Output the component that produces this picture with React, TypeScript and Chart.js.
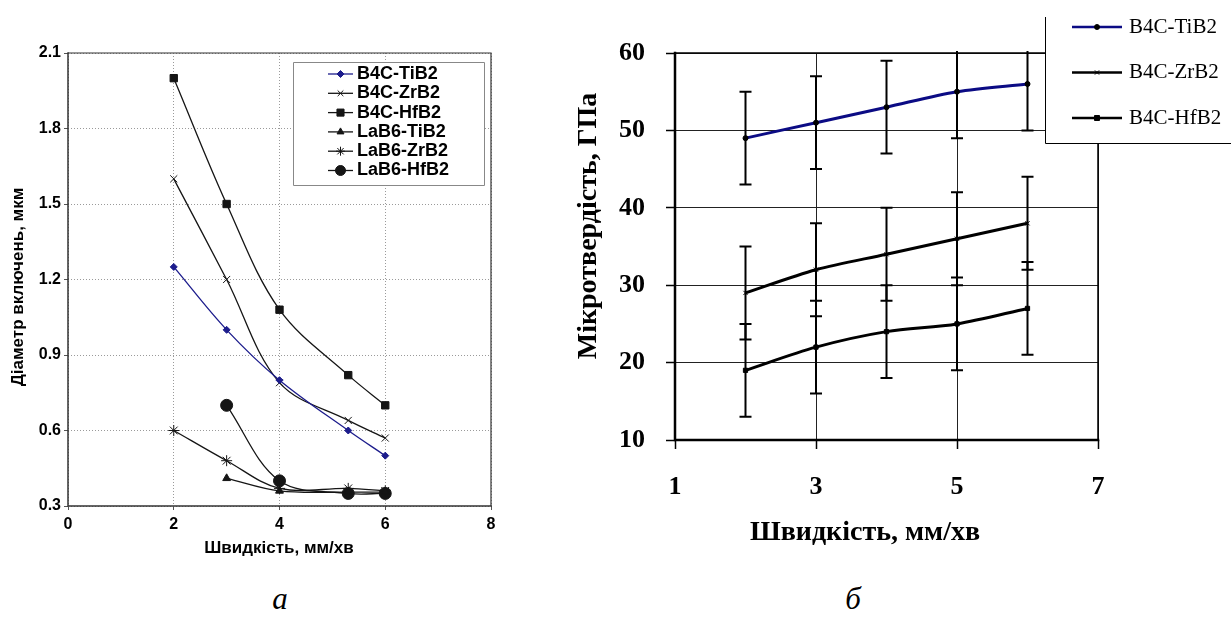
import React, { useEffect, useRef } from 'react';
import { Chart, registerables } from 'chart.js';
import { drawPoint } from 'chart.js/helpers';

Chart.register(...registerables);

const ARIAL = 'Arial, "Liberation Sans", sans-serif';
const TIMES = '"Times New Roman", "Liberation Serif", serif';

// ---------- Chart "а": inclusion diameter vs speed ----------
const speedA = [2, 3, 4, 5.3, 6];
const b4cTiB2A = [1.25, 1.0, 0.8, 0.6, 0.5];
const b4cZrB2A = [1.6, 1.2, 0.79, 0.64, 0.57];
const b4cHfB2A = [2.0, 1.5, 1.08, 0.82, 0.7];
const lab6TiB2A: (number | null)[] = [null, 0.41, 0.36, 0.355, 0.355];
const lab6ZrB2A = [0.6, 0.48, 0.37, 0.37, 0.36];
const lab6HfB2A: (number | null)[] = [null, 0.7, 0.4, 0.35, 0.35];
const xTicksA = [0, 2, 4, 6, 8];
const yTicksA = [0.3, 0.6, 0.9, 1.2, 1.5, 1.8, 2.1];

// ---------- Chart "б": microhardness vs speed ----------
const speedB = [2, 3, 4, 5, 6];
const b4cTiB2B = [49, 51, 53, 55, 56];
const b4cZrB2B = [29, 32, 34, 36, 38];
const b4cHfB2B = [19, 22, 24, 25, 27];
const errTiB2B = [6, 6, 6, 6, 6];
const errZrB2B = [6, 6, 6, 6, 6];
const errHfB2B = [6, 6, 6, 6, 6];
const xTicksB = [1, 3, 5, 7];
const yTicksB = [10, 20, 30, 40, 50, 60];

const pts = (xs: number[], ys: (number | null)[]) =>
  xs.map((x, i) => ({ x, y: ys[i] })).filter((p) => p.y !== null) as { x: number; y: number }[];

const framePlugin = {
  id: 'frame',
  beforeDatasetsDraw(chart: any, _args: any, o: any) {
    const { ctx, chartArea: a } = chart;
    ctx.save();
    ctx.strokeStyle = o.color;
    ctx.lineWidth = o.edgeWidth;
    ctx.beginPath();
    ctx.moveTo(a.left, a.top);
    ctx.lineTo(a.right, a.top);
    ctx.lineTo(a.right, a.bottom);
    ctx.stroke();
    ctx.lineWidth = o.axisWidth;
    ctx.beginPath();
    ctx.moveTo(a.left, a.top - o.axisWidth / 2);
    ctx.lineTo(a.left, a.bottom);
    ctx.lineTo(a.right + o.axisWidth / 2, a.bottom);
    ctx.stroke();
    ctx.restore();
  },
};

const titlesPlugin = {
  id: 'axisTitles',
  afterDraw(chart: any, _args: any, o: any) {
    if (!o || !o.enabled) return;
    const ctx = chart.ctx;
    ctx.save();
    ctx.fillStyle = o.color;
    ctx.font = o.font;
    ctx.textAlign = 'center';
    ctx.textBaseline = 'middle';
    ctx.fillText(o.xText, o.xTitleX, o.xTitleY);
    ctx.translate(o.yTitleX, o.yTitleY);
    ctx.rotate(-Math.PI / 2);
    ctx.fillText(o.yText, 0, 0);
    ctx.restore();
  },
};

const errorBarPlugin = {
  id: 'errorBars',
  afterDatasetsDraw(chart: any, _args: any, o: any) {
    if (!o || !o.enabled) return;
    const { ctx, chartArea: a } = chart;
    const xs = chart.scales.x;
    const ys = chart.scales.y;
    ctx.save();
    ctx.beginPath();
    ctx.rect(a.left, a.top - 2, a.right - a.left, a.bottom - a.top + 4);
    ctx.clip();
    ctx.strokeStyle = o.color;
    ctx.lineWidth = o.width;
    chart.data.datasets.forEach((ds: any) => {
      const errs = ds.errors;
      if (!errs) return;
      ds.data.forEach((p: any, i: number) => {
        const px = xs.getPixelForValue(p.x);
        const top = ys.getPixelForValue(p.y + errs[i]);
        const bot = ys.getPixelForValue(p.y - errs[i]);
        ctx.beginPath();
        ctx.moveTo(px, top);
        ctx.lineTo(px, bot);
        ctx.moveTo(px - o.cap, top);
        ctx.lineTo(px + o.cap, top);
        ctx.moveTo(px - o.cap, bot);
        ctx.lineTo(px + o.cap, bot);
        ctx.stroke();
      });
    });
    ctx.restore();
  },
};

const boxLegendPlugin = {
  id: 'boxLegend',
  afterDraw(chart: any, _args: any, o: any) {
    const ctx = chart.ctx;
    ctx.save();
    ctx.fillStyle = '#ffffff';
    ctx.fillRect(o.x, o.y, o.w, o.h);
    ctx.strokeStyle = o.borderColor;
    ctx.lineWidth = 1;
    ctx.beginPath();
    if (o.openTop) {
      ctx.moveTo(o.x + 0.5, o.y);
      ctx.lineTo(o.x + 0.5, o.y + o.h + 0.5);
      ctx.lineTo(o.x + o.w, o.y + o.h + 0.5);
    } else {
      ctx.rect(o.x + 0.5, o.y + 0.5, o.w, o.h);
    }
    ctx.stroke();
    chart.data.datasets.forEach((ds: any, i: number) => {
      const cy = o.firstY + i * o.rowGap;
      ctx.strokeStyle = ds.borderColor;
      ctx.lineWidth = o.lineWidth;
      ctx.beginPath();
      ctx.moveTo(o.lineX, cy);
      ctx.lineTo(o.lineX + o.lineLen, cy);
      ctx.stroke();
      ctx.fillStyle = ds.pointBackgroundColor;
      ctx.strokeStyle = ds.pointBorderColor;
      ctx.lineWidth = 1;
      drawPoint(
        ctx,
        { pointStyle: ds.pointStyle, radius: o.markerRadius[i], borderWidth: 1, rotation: 0 } as any,
        o.lineX + o.lineLen / 2,
        cy
      );
      ctx.fillStyle = o.textColor;
      ctx.font = o.font;
      ctx.textBaseline = 'middle';
      ctx.textAlign = 'left';
      ctx.fillText(ds.label, o.textX, cy);
    });
    ctx.restore();
  },
};

function ChartA() {
  const ref = useRef<HTMLCanvasElement>(null);
  useEffect(() => {
    const blue = '#1c1c8c';
    const black = '#151515';
    const mk = (label: string, ys: (number | null)[], color: string, style: string, r: number) => ({
      label,
      data: pts(speedA, ys),
      borderColor: color,
      backgroundColor: color,
      pointBackgroundColor: color,
      pointBorderColor: color,
      pointStyle: style,
      pointRadius: r,
      pointBorderWidth: 1,
      borderWidth: 1.3,
      tension: 0.35,
      fill: false,
    });
    const chart = new Chart(ref.current!, {
      type: 'line',
      data: {
        datasets: [
          mk('B4C-TiB2', b4cTiB2A, blue, 'rectRot', 3.5),
          mk('B4C-ZrB2', b4cZrB2A, black, 'crossRot', 5),
          mk('B4C-HfB2', b4cHfB2A, black, 'rect', 5.2),
          mk('LaB6-TiB2', lab6TiB2A, black, 'triangle', 4.5),
          mk('LaB6-ZrB2', lab6ZrB2A, black, 'star', 5.5),
          mk('LaB6-HfB2', lab6HfB2A, black, 'circle', 6),
        ] as any,
      },
      options: {
        animation: false,
        responsive: false,
        events: [],
        layout: { padding: { top: 53, right: 29, left: 0, bottom: 0 } },
        scales: {
          x: {
            type: 'linear',
            min: 0,
            max: 8,
            afterBuildTicks: (s: any) => {
              s.ticks = xTicksA.map((v) => ({ value: v }));
            },
            afterFit: (s: any) => {
              s.height = 69;
            },
            ticks: { color: '#000', font: { family: ARIAL, size: 16, weight: 'bold' }, padding: 5 },
            grid: { color: '#9a9a9a', lineWidth: 1, tickLength: 4, tickColor: '#555' },
            border: { display: false, dash: [1, 2] },
            title: { display: false },
          },
          y: {
            type: 'linear',
            min: 0.3,
            max: 2.1,
            afterBuildTicks: (s: any) => {
              s.ticks = yTicksA.map((v) => ({ value: v }));
            },
            afterFit: (s: any) => {
              s.width = 68;
            },
            ticks: {
              color: '#000',
              font: { family: ARIAL, size: 16, weight: 'bold' },
              padding: 3,
              callback: (v: any) => Number(v).toFixed(1),
            },
            grid: { color: '#9a9a9a', lineWidth: 1, tickLength: 4, tickColor: '#555' },
            border: { display: false, dash: [1, 2] },
            title: { display: false },
          },
        },
        plugins: {
          legend: { display: false },
          tooltip: { enabled: false },
          frame: { color: '#333', edgeWidth: 1.2, axisWidth: 1.5 },
          axisTitles: {
            enabled: true,
            color: '#000',
            font: `bold 17px ${ARIAL}`,
            xText: 'Швидкість, мм/хв',
            xTitleX: 279,
            xTitleY: 548,
            yText: 'Діаметр включень, мкм',
            yTitleX: 18,
            yTitleY: 287,
          },
          boxLegend: {
            x: 293,
            y: 62,
            w: 191,
            h: 123,
            openTop: false,
            borderColor: '#888',
            firstY: 74,
            rowGap: 19.3,
            lineX: 328,
            lineLen: 25,
            lineWidth: 1.3,
            textX: 357,
            font: `bold 18px ${ARIAL}`,
            textColor: '#000',
            markerRadius: [3.5, 4, 5, 4, 4.5, 5],
          },
        } as any,
      },
      plugins: [framePlugin, titlesPlugin, boxLegendPlugin],
    });
    return () => chart.destroy();
  }, []);
  return <canvas ref={ref} width={520} height={575} style={{ position: 'absolute', left: 0, top: 0 }} />;
}

function ChartB() {
  const ref = useRef<HTMLCanvasElement>(null);
  useEffect(() => {
    const navy = '#0b0b84';
    const black = '#000000';
    const mk = (label: string, ys: number[], errs: number[], color: string, style: string, r: number) => ({
      label,
      data: pts(speedB, ys),
      errors: errs,
      borderColor: color,
      backgroundColor: color,
      pointBackgroundColor: black,
      pointBorderColor: black,
      pointStyle: style,
      pointRadius: r,
      pointBorderWidth: 1,
      borderWidth: 3,
      tension: 0.3,
      fill: false,
    });
    const chart = new Chart(ref.current!, {
      type: 'line',
      data: {
        datasets: [
          mk('B4C-TiB2', b4cTiB2B, errTiB2B, navy, 'circle', 2.5),
          mk('B4C-ZrB2', b4cZrB2B, errZrB2B, black, 'crossRot', 3),
          mk('B4C-HfB2', b4cHfB2B, errHfB2B, black, 'rect', 3),
        ] as any,
      },
      options: {
        animation: false,
        responsive: false,
        events: [],
        layout: { padding: { top: 53, right: 133, left: 0, bottom: 0 } },
        scales: {
          x: {
            type: 'linear',
            min: 1,
            max: 7,
            afterBuildTicks: (s: any) => {
              s.ticks = xTicksB.map((v) => ({ value: v }));
            },
            afterFit: (s: any) => {
              s.height = 135;
            },
            ticks: { color: '#000', font: { family: TIMES, size: 26, weight: 'bold' }, padding: 23 },
            grid: { color: '#222', lineWidth: 1, tickLength: 9, tickColor: '#000', tickWidth: 1.5 },
            border: { display: false },
            title: { display: false },
          },
          y: {
            type: 'linear',
            min: 10,
            max: 60,
            afterBuildTicks: (s: any) => {
              s.ticks = yTicksB.map((v) => ({ value: v }));
            },
            afterFit: (s: any) => {
              s.width = 115;
            },
            ticks: { color: '#000', font: { family: TIMES, size: 26, weight: 'bold' }, padding: 21 },
            grid: { color: '#222', lineWidth: 1, tickLength: 9, tickColor: '#000', tickWidth: 1.5 },
            border: { display: false },
            title: { display: false },
          },
        },
        plugins: {
          legend: { display: false },
          tooltip: { enabled: false },
          frame: { color: '#000', edgeWidth: 1.5, axisWidth: 2.5 },
          errorBars: { enabled: true, color: '#000', width: 2, cap: 6 },
          axisTitles: {
            enabled: true,
            color: '#000',
            font: `bold 28px ${TIMES}`,
            xText: 'Швидкість, мм/хв',
            xTitleX: 305,
            xTitleY: 533,
            yText: 'Мікротвердість, ГПа',
            yTitleX: 29,
            yTitleY: 226,
          },
          boxLegend: {
            x: 485,
            y: 17,
            w: 200,
            h: 126,
            openTop: true,
            borderColor: '#000',
            firstY: 27,
            rowGap: 45.5,
            lineX: 512,
            lineLen: 50,
            lineWidth: 2.5,
            textX: 569,
            font: `21px ${TIMES}`,
            textColor: '#000',
            markerRadius: [2.5, 3, 3.5],
          },
        } as any,
      },
      plugins: [framePlugin, errorBarPlugin, titlesPlugin, boxLegendPlugin],
    });
    return () => chart.destroy();
  }, []);
  return <canvas ref={ref} width={671} height={575} style={{ position: 'absolute', left: 560, top: 0 }} />;
}

export default function App() {
  const labelStyle: React.CSSProperties = {
    position: 'absolute',
    top: 579,
    width: 60,
    textAlign: 'center',
    fontFamily: TIMES,
    fontStyle: 'italic',
    fontSize: 31,
    lineHeight: '40px',
    color: '#000',
  };
  return (
    <div
      style={{
        position: 'absolute',
        left: 0,
        top: 0,
        width: 1231,
        height: 618,
        background: '#fff',
        overflow: 'hidden',
      }}
    >
      <ChartA />
      <ChartB />
      <div style={{ ...labelStyle, left: 250 }}>а</div>
      <div style={{ ...labelStyle, left: 823 }}>б</div>
    </div>
  );
}
